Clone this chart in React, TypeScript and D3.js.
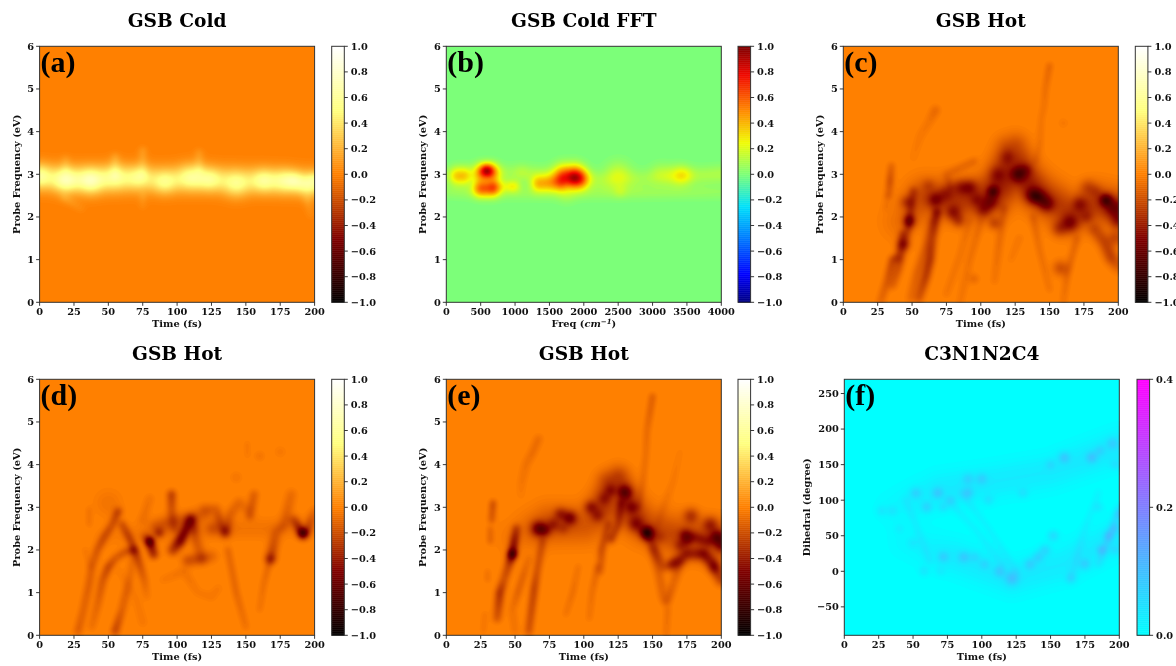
import React, { useMemo } from "react";
import * as d3 from "d3";

type Pt = [number, number, number];
type Ridge = [number, Pt[]];
type Blob = [number, number, number, number];

const ridgesA: Ridge[] = [
  [9.5, [[0,2.92,.32],[40,2.88,.32],[80,2.88,.32],[120,2.88,.32],[160,2.85,.32],[200,2.8,.32]]],
  [3, [[55,3.0,.12],[55,3.4,.12]]],
  [3, [[75,3.0,.1],[75,3.55,.12]]],
  [3, [[116,3.1,.12],[116,3.5,.1]]],
  [3, [[19,3.1,.1],[19,3.35,.08]]],
  [3, [[18,2.45,.1],[30,2.2,.05]]],
  [2.5, [[75,2.5,.08],[75,2.25,.05]]],
  [3, [[195,2.4,.1],[197,2.05,.05]]],
];
const blobsA: Blob[] = [
  [0,2.97,.34,8],[19,2.85,.44,8.5],[37,2.85,.46,9],[55,2.95,.3,9],[72,2.95,.28,8],[91,2.8,.28,8],[110,2.95,.32,9],
  [124,2.88,.28,8],[143,2.75,.3,9],[163,2.85,.32,8],[178,2.85,.3,8],[186,2.85,.26,6],[195,2.72,.3,7],[200,2.9,.2,5],
];

const ridgesB: Ridge[] = [
  [6, [[530,3.04,.5],[650,3.04,.5]]],
  [5.5, [[510,2.67,.58],[660,2.67,.58]]],
  [6, [[170,2.96,.38],[240,2.96,.38]]],
  [4, [[720,2.72,.16],[1000,2.72,.2]]],
  [5.5, [[1350,2.78,.42],[1640,2.78,.4]]],
  [7.5, [[1720,2.98,.52],[1860,2.98,.56]]],
  [6.5, [[1880,2.86,.42],[1940,2.86,.42]]],
  [7, [[3120,3.03,.1],[3350,2.98,.14]]],
  [6, [[100,2.98,.03],[1100,3.03,.1],[2300,2.85,.1],[2900,2.9,.09],[4000,3.0,.12]]],
  [5, [[0,2.6,.06],[400,2.58,.08],[1500,2.55,.06],[2800,2.58,.08],[4000,2.58,.06]]],
];
const blobsB: Blob[] = [
  [590,3.1,.56,4],[3460,2.98,.15,6],[2500,3.0,.16,9],[2530,2.6,.08,4],[960,2.72,.1,3],[1750,2.5,.06,6],[1100,3.05,.05,5],
];

const ridgesC: Ridge[] = [
  [13, [[42,1.9,.08],[60,2.45,.24],[85,2.4,.3],[110,2.5,.32],[125,2.95,.32],[145,2.5,.3],[165,2.1,.28],[185,2.3,.3],[200,2.2,.3]]],
  [2.6, [[27,0,.12],[32,.5,.18],[36,1,.28],[40,1.1,.18],[43,1.6,.24]]],
  [2.8, [[36,.4,.14],[40,.8,.22],[44,1.3,.18],[47,1.7,.24],[51,2.6,.22]]],
  [3, [[55,.1,.2],[60,.6,.32],[63,1,.36],[65,1.5,.26],[68,2.1,.4]]],
  [3, [[49,.1,.1],[54,.7,.15],[60,1.3,.15],[64,1.9,.1]]],
  [2.2, [[33,2.5,.14],[34,2.85,.25],[35,3.2,.14]]],
  [1.8, [[31,2.2,.06],[32,2.5,.06]]],
  [3, [[51,3.4,.03],[56,3.9,.05],[62,4.2,.06],[67,4.5,.12]]],
  [2, [[140,3.3,.07],[143,3.7,.08],[144,4.3,.07],[146,4.6,.08],[147,5,.1],[150,5.55,.14]]],
  [9, [[110,2.9,.14],[120,3.6,.22],[125,3.65,.22],[132,3.2,.16],[140,2.6,.06]]],
  [2.2, [[138,2,.12],[143,1.2,.09],[150,.3,.07]]],
  [2.2, [[160,0,.07],[163,.7,.12],[170,1.5,.12]]],
  [4.5, [[183,1.7,.2],[190,1.4,.25],[195,1.05,.28],[200,.85,.16]]],
  [2.5, [[85,0,.06],[92,1,.08],[100,1.9,.1]]],
  [2.5, [[75,.2,.06],[85,1.1,.07],[92,1.9,.08]]],
  [2.5, [[110,.5,.06],[113,1.3,.1],[117,2.2,.12]]],
  [2.5, [[128,1.5,.06],[122,1,.04]]],
  [2.5, [[78,2.7,.12],[75,3.0,.1],[95,3.3,.12]]],
];
const blobsC: Blob[] = [
  [48,1.9,.4,4],[46,2.35,.22,4],[44,1.35,.28,4],[40,1,.12,3],[67,2.4,.32,5],[62,2.75,.14,4],[75,2.55,.2,5],[80,2.1,.32,5],[84,1.9,.24,4],
  [85,2.7,.24,5],[92,2.7,.3,5],[97,2.4,.18,4],[102,2.15,.28,5],[107,2.35,.3,5],[109,2.6,.48,3.5],[112,3,.18,5],[120,3.4,.2,5],
  [127,3,.4,5],[133,3.1,.18,4],[138,2.5,.4,5],[143,2.45,.28,5],[148,2.3,.34,5],[157,1.72,.24,5],[165,1.85,.36,6],[172,2.3,.24,5],
  [177,2,.18,4],[178,2.7,.18,5],[184,2.6,.12,4],[191,2.4,.55,4],[197,2.2,.32,6],[200,1.9,.28,5],[110,1.85,.24,4],[158,.8,.22,5],[198,1.5,.22,5],[95,.55,.12,3],[160,4.2,.05,3],
];

const ridgesD: Ridge[] = [
  [2.6, [[28,.1,.16],[32,.6,.14],[36,1.2,.16],[38,1.6,.16],[42,2,.2],[47,2.3,.24],[53,2.6,.22],[57,2.9,.3]]],
  [2.6, [[38,.2,.08],[42,.7,.13],[46,1.3,.2],[50,1.6,.28],[55,1.8,.18],[62,1.95,.2],[68,2,.3]]],
  [1.6, [[36,2.6,.08],[36,2.95,.08]]],
  [2, [[33,2,.05],[37,1.6,.05]]],
  [9, [[50,3.1,.06]]],
  [2.6, [[55,.1,.28],[60,.6,.15],[63,1,.15],[66,1.4,.1],[68,1.9,.08]]],
  [2.6, [[60,2.6,.22],[65,2.3,.28],[70,1.95,.32],[76,1.3,.14],[78,.9,.05]]],
  [3, [[77,2.3,.2],[80,2.2,.6],[83,1.9,.4]]],
  [2.8, [[96,3.3,.32],[96,2.9,.2],[98,2.5,.15]]],
  [3.6, [[97,2,.32],[102,2.2,.58],[107,2.5,.5],[110,2.7,.5],[113,2.3,.18],[118,1.8,.14]]],
  [4, [[108,1.75,.22],[118,1.8,.2],[125,1.85,.12]]],
  [5, [[85,2.55,.15],[95,2.65,.18],[110,2.75,.15],[120,2.85,.13]]],
  [3.5, [[120,2.95,.1],[128,2.95,.15],[135,2.4,.3],[138,2.8,.14],[145,3.1,.12],[150,2.95,.08]]],
  [2.2, [[137,2,.13],[143,1,.13],[150,.2,.08]]],
  [2.8, [[153,2.8,.2],[156,3.3,.16]]],
  [3.5, [[168,1.8,.3],[172,2.4,.14],[178,2.6,.15],[183,3.3,.1]]],
  [2, [[160,.6,.07],[163,1.2,.1],[167,1.7,.14]]],
  [3, [[185,2.7,.25],[191,2.4,.5],[195,2.5,.25],[200,2.9,.1]]],
  [1.6, [[151,4.2,.05],[151,4.5,.06]]],
  [3, [[90,1.3,.04],[105,1.5,.07],[115,1,.04],[125,.9,.05],[130,1.1,.04]]],
  [3, [[75,2.7,.08],[80,3.2,.07]]],
  [3, [[58,1.5,.03],[70,.9,.04],[75,.3,.05]]],
  [7, [[45,2.3,.02],[75,2.4,.05],[130,2.5,.06],[170,2.5,.06],[200,2.6,.03]]],
];
const blobsD: Blob[] = [
  [87,2.4,.32,3],[80,2.2,.3,3],[192,2.38,.5,3.5],[126,2.5,.16,4.5],[143,3.7,.06,3.5],[160,4.2,.07,3],[175,4.3,.05,3.5],[135,2.45,.18,3],[168,1.8,.2,3],
];

const ridgesE: Ridge[] = [
  [13, [[50,2.3,.05],[75,2.6,.2],[100,2.6,.18],[125,3.05,.2],[145,2.6,.2],[170,2.3,.24],[200,2.2,.26]]],
  [1.8, [[27,.1,.06],[28,.5,.06]]],
  [2.8, [[37,.4,.2],[39,1,.38],[42,1.3,.22],[45,1.6,.28],[48,1.9,.6],[50,2.3,.42],[51,2.5,.28]]],
  [2, [[34,3.1,.26],[33,2.7,.2]]],
  [1.6, [[32,2.2,.16],[32,2.5,.14]]],
  [1.6, [[30,1.3,.1],[30,1.5,.08]]],
  [2.4, [[50,.1,.07],[48,.6,.08],[52,1,.15],[56,1.4,.15],[60,1.8,.08]]],
  [2.5, [[60,.1,.22],[62,.6,.26],[64,1.1,.3],[66,1.5,.22],[70,2.2,.2]]],
  [2.8, [[54,3.3,.03],[55,3.6,.06],[58,4,.08],[63,4.3,.1],[67,4.6,.1]]],
  [2.4, [[112,1.5,.14],[113,2,.24],[118,2.6,.2]]],
  [2.6, [[120,2.25,.3],[125,2.6,.24],[127,3.1,.26]]],
  [2, [[87,.5,.07],[92,1,.1],[96,1.6,.07]]],
  [2, [[104,.4,.07],[106,1,.1],[110,1.6,.14]]],
  [8, [[112,3.1,.14],[118,3.6,.26],[125,3.7,.28],[132,3.3,.2],[138,2.8,.1]]],
  [2, [[140,3,.1],[143,3.6,.1],[145,4.2,.1],[146,4.8,.12],[148,5.2,.16],[150,5.6,.18]]],
  [3.2, [[146,2.4,.24],[153,1.9,.24],[158,1.6,.2],[165,1.7,.16]]],
  [3, [[150,2,.12],[155,1.4,.14],[158,.9,.14],[160,.8,.2],[165,1.2,.12],[170,1.7,.15]]],
  [2, [[160,.05,.08],[161,.6,.1]]],
  [2.4, [[152,2.4,.04],[158,3,.06],[165,3.6,.05],[170,4.3,.03]]],
  [4, [[165,1.65,.3],[175,1.9,.36],[180,1.9,.3],[187,1.9,.42],[193,1.7,.36],[200,1.3,.28]]],
  [3.5, [[170,2.1,.22],[180,2.3,.24],[190,2.2,.22]]],
];
const blobsE: Blob[] = [
  [48,1.9,.42,3],[67,2.5,.5,5],[72,2.45,.28,4],[78,2.6,.25,4],[83,2.85,.3,4],[90,2.75,.44,4.5],[85,2.5,.16,3.5],[105,3,.32,4],[110,2.8,.24,4],
  [115,3.2,.2,4],[120,3.4,.26,4],[130,3.35,.44,4.5],[135,3,.26,4],[138,2.6,.3,5],[146,2.4,.62,4.5],[155,2.3,.14,4],[174,2.35,.36,4],[178,2.8,.3,5],
  [192,2.6,.32,5],[197,2.3,.48,4.5],[200,2.1,.3,4],[195,1.6,.22,4],
];

const ridgesF: Ridge[] = [
  [13, [[35,90,.015],[70,115,.035],[105,125,.035],[150,140,.035],[200,175,.04]]],
  [13, [[45,40,.015],[80,20,.035],[122,-10,.035],[160,10,.035],[200,50,.035]]],
  [2.4, [[75,100,.025],[95,60,.025],[115,10,.025]]], [2.4, [[85,110,.025],[105,60,.025],[125,0,.025]]], [2.4, [[185,10,.035],[195,60,.05],[200,90,.05]]],
  [2.4, [[165,-10,.025],[175,60,.025],[185,110,.025]]], [2.4, [[45,100,.025],[55,50,.025],[62,15,.025]]],
];
const blobsF: Blob[] = [
  [27,85,.04,3],[35,85,.04,3],[52,110,.065,3.5],[60,90,.065,3.5],[68,110,.075,3.5],[72,90,.05,3],[78,100,.05,3],[90,110,.07,3.5],[90,130,.055,3.5],[100,130,.06,3.5],
  [105,100,.045,3],[130,110,.045,3],[160,160,.08,3.5],[180,160,.08,3.5],[186,170,.05,3],[195,180,.06,3.5],[197,150,.045,3],[150,150,.045,3],[185,90,.045,3],
  [40,60,.025,3],[50,40,.03,3],[58,0,.045,3],[70,0,.03,3],[72,20,.065,3.5],[87,20,.07,3.5],[95,20,.045,3],[102,10,.05,3],[113,0,.07,3.5],[122,-10,.08,4.5],
  [135,10,.065,3.5],[141,20,.065,3.5],[146,30,.065,3.5],[152,50,.07,3.5],[175,10,.065,3.5],[165,-10,.045,3.5],[187,30,.07,3],[192,50,.065,3],[197,60,.05,3],[200,80,.05,3],[197,30,.045,3],
];

const timeTicks = [0, 25, 50, 75, 100, 125, 150, 175, 200];
const freqTicks = [0, 500, 1000, 1500, 2000, 2500, 3000, 3500, 4000];
const probeTicks = [0, 1, 2, 3, 4, 5, 6];
const dihedralTicks = [-50, 0, 50, 100, 150, 200, 250];
const barTicks = [-1, -0.8, -0.6, -0.4, -0.2, 0, 0.2, 0.4, 0.6, 0.8, 1];
const coolTicks = [0, 0.2, 0.4];

const afmhot = (v: number) => {
  const t = (v + 1) / 2;
  const c = (x: number) => Math.round(255 * Math.min(1, Math.max(0, x)));
  return `rgb(${c(2 * t)},${c(2 * t - 0.5)},${c(2 * t - 1)})`;
};
const jetScale = d3.scaleLinear<string>()
  .domain([-1, -0.78, -0.52, -0.25, 0, 0.25, 0.5, 0.78, 1])
  .range(["#00007f", "#0000ff", "#0072ff", "#00e0fb", "#7cff79", "#f1fc06", "#ff8900", "#f10800", "#7f0000"]);
const cool = (v: number) => {
  const t = v / 0.4;
  return `rgb(${Math.round(255 * t)},${Math.round(255 * (1 - t))},255)`;
};

const SERIF = "'DejaVu Serif', serif";
const TICK = 9.8;

type Panel = {
  title: string; tag: string; left: number; top: number; barLeft: number;
  xDomain: [number, number]; yDomain: [number, number]; xTicks: number[]; yTicks: number[];
  yLabel: string; xLabel: string; ridges: Ridge[]; blobs: Blob[]; color: (v: number) => string;
  barDomain: [number, number]; barTicks: number[]; sign: number; maxV: number; labelOff: number;
};

const W = 275, H = 256, BW = 12.6;
const panels: Panel[] = [
  { title: "GSB Cold", tag: "(a)", left: 39.6, top: 46.3, barLeft: 331.7, xDomain: [0, 200], yDomain: [0, 6], xTicks: timeTicks, yTicks: probeTicks, yLabel: "Probe Frequency (eV)", xLabel: "Time (fs)", ridges: ridgesA, blobs: blobsA, color: afmhot, barDomain: [-1, 1], barTicks, sign: 1, maxV: 1, labelOff: 20 },
  { title: "GSB Cold FFT", tag: "(b)", left: 446.3, top: 46.3, barLeft: 738, xDomain: [0, 4000], yDomain: [0, 6], xTicks: freqTicks, yTicks: probeTicks, yLabel: "Probe Frequency (eV)", xLabel: "", ridges: ridgesB, blobs: blobsB, color: (v) => jetScale(v), barDomain: [-1, 1], barTicks, sign: 1, maxV: 1, labelOff: 20 },
  { title: "GSB Hot", tag: "(c)", left: 843.3, top: 46.3, barLeft: 1135.3, xDomain: [0, 200], yDomain: [0, 6], xTicks: timeTicks, yTicks: probeTicks, yLabel: "Probe Frequency (eV)", xLabel: "Time (fs)", ridges: ridgesC, blobs: blobsC, color: afmhot, barDomain: [-1, 1], barTicks, sign: -1, maxV: 1, labelOff: 20 },
  { title: "GSB Hot", tag: "(d)", left: 39.6, top: 379.3, barLeft: 331.7, xDomain: [0, 200], yDomain: [0, 6], xTicks: timeTicks, yTicks: probeTicks, yLabel: "Probe Frequency (eV)", xLabel: "Time (fs)", ridges: ridgesD, blobs: blobsD, color: afmhot, barDomain: [-1, 1], barTicks, sign: -1, maxV: 1, labelOff: 20 },
  { title: "GSB Hot", tag: "(e)", left: 446.3, top: 379.3, barLeft: 738, xDomain: [0, 200], yDomain: [0, 6], xTicks: timeTicks, yTicks: probeTicks, yLabel: "Probe Frequency (eV)", xLabel: "Time (fs)", ridges: ridgesE, blobs: blobsE, color: afmhot, barDomain: [-1, 1], barTicks, sign: -1, maxV: 1, labelOff: 20 },
  { title: "C3N1N2C4", tag: "(f)", left: 844.3, top: 379.3, barLeft: 1137, xDomain: [0, 200], yDomain: [-90, 270], xTicks: timeTicks, yTicks: dihedralTicks, yLabel: "Dihedral (degree)", xLabel: "Time (fs)", ridges: ridgesF, blobs: blobsF, color: cool, barDomain: [0, 0.4], barTicks: coolTicks, sign: 1, maxV: 0.4, labelOff: 34 },
];

const STEP = 1.5;

function buildField(p: Panel, x: d3.ScaleLinear<number, number>, y: d3.ScaleLinear<number, number>) {
  const nx = Math.ceil(W / STEP), ny = Math.ceil(H / STEP);
  const field = new Float64Array(nx * ny);
  const all: Ridge[] = [...p.ridges, ...p.blobs.map(([a, b, v, s]): Ridge => [s, [[a, b, v]]])];
  for (const [s, pts] of all) {
    const P = pts.map(([a, b, v]) => [x(a), y(b), v]);
    const R = 3.6 * s;
    const x0 = Math.max(0, Math.floor((d3.min(P, (q) => q[0])! - R) / STEP));
    const x1 = Math.min(nx - 1, Math.ceil((d3.max(P, (q) => q[0])! + R) / STEP));
    const y0 = Math.max(0, Math.floor((d3.min(P, (q) => q[1])! - R) / STEP));
    const y1 = Math.min(ny - 1, Math.ceil((d3.max(P, (q) => q[1])! + R) / STEP));
    for (let j = y0; j <= y1; j++) for (let i = x0; i <= x1; i++) {
      const cx = (i + 0.5) * STEP, cy = (j + 0.5) * STEP;
      let best = 0;
      for (let k = 0; k < P.length; k++) {
        const A = P[k], B = P[Math.min(k + 1, P.length - 1)];
        const dx = B[0] - A[0], dy = B[1] - A[1], L = dx * dx + dy * dy;
        const u = L ? Math.max(0, Math.min(1, ((cx - A[0]) * dx + (cy - A[1]) * dy) / L)) : 0;
        const ex = A[0] + u * dx - cx, ey = A[1] + u * dy - cy;
        const val = (A[2] + u * (B[2] - A[2])) * Math.exp(-(ex * ex + ey * ey) / (2 * s * s));
        if (val > best) best = val;
      }
      field[j * nx + i] += best;
    }
  }
  const data = Array.from(field);
  d3.blur2({ data, width: nx, height: ny }, 1);
  const levels = d3.range(1, 71).map((k) => (k / 70) * p.maxV);
  return d3.contours().size([nx, ny]).thresholds(levels)(data);
}

function HeatPanel({ p }: { p: Panel }) {
  const x = d3.scaleLinear().domain(p.xDomain).range([0, W]);
  const y = d3.scaleLinear().domain(p.yDomain).range([H, 0]);
  const bar = d3.scaleLinear().domain(p.barDomain).range([H, 0]);
  const contours = useMemo(() => buildField(p, x, y), [p]);
  const path = d3.geoPath(d3.geoTransform({
    point(this: any, a: number, b: number) { this.stream.point(a * STEP, b * STEP); },
  }));
  const base = p.color(0);
  const steps = d3.range(0, 128);
  const cx = p.left + W / 2;
  const tickStyle = { fontFamily: SERIF, fontWeight: 700, fontSize: TICK, fill: "#111" } as const;
  const id = `clip-${p.tag.replace(/\W/g, "")}`;
  return (
    <g>
      <text x={cx} y={p.top - 19.8} textAnchor="middle" style={{ fontFamily: SERIF, fontWeight: 700, fontSize: 18.6, fill: "#000" }}>{p.title}</text>
      <g transform={`translate(${p.left},${p.top})`}>
        <clipPath id={id}><rect width={W} height={H} /></clipPath>
        <rect width={W} height={H} fill={base} />
        <g clipPath={`url(#${id})`}>
          {contours.map((c, i) => (
            c.coordinates.length ? <path key={i} d={path(c as any) || ""} fill={p.color(p.sign * c.value)} /> : null
          ))}
        </g>
        <rect width={W} height={H} fill="none" stroke="#333" strokeWidth={1} />
        <text x={1} y={26} style={{ fontFamily: "'Liberation Serif', serif", fontWeight: 700, fontSize: 30, fill: "#000" }}>{p.tag}</text>
        {p.xTicks.map((t) => (
          <g key={t} transform={`translate(${x(t)},${H})`}>
            <line y2={3.5} stroke="#222" strokeWidth={0.9} />
            <text y={13.2} textAnchor="middle" style={tickStyle}>{t}</text>
          </g>
        ))}
        {p.yTicks.map((t) => (
          <g key={t} transform={`translate(0,${y(t)})`}>
            <line x2={-3.5} stroke="#222" strokeWidth={0.9} />
            <text x={-5.5} y={3.4} textAnchor="end" style={tickStyle}>{t < 0 ? `\u2212${-t}` : t}</text>
          </g>
        ))}
        {p.xLabel ? (
          <text x={W / 2} y={H + 24.5} textAnchor="middle" style={tickStyle}>{p.xLabel}</text>
        ) : (
          <text x={W / 2} y={H + 25} textAnchor="middle" style={tickStyle}>
            Freq (<tspan fontStyle="italic">cm</tspan><tspan dy={-3.5} fontSize={7} fontStyle="italic">{"\u22121"}</tspan><tspan dy={3.5}>)</tspan>
          </text>
        )}
        <text transform={`translate(${-p.labelOff},${H / 2}) rotate(-90)`} textAnchor="middle" style={tickStyle}>{p.yLabel}</text>
      </g>
      <g transform={`translate(${p.barLeft},${p.top})`}>
        {steps.map((k) => {
          const v = p.barDomain[0] + ((k + 0.5) / 128) * (p.barDomain[1] - p.barDomain[0]);
          const top = bar(p.barDomain[0] + ((k + 1) / 128) * (p.barDomain[1] - p.barDomain[0]));
          return <rect key={k} y={top} width={BW} height={H / 128 + 0.5} fill={p.color(v)} />;
        })}
        <rect width={BW} height={H} fill="none" stroke="#333" strokeWidth={1} />
        {p.barTicks.map((t) => (
          <g key={t} transform={`translate(${BW},${bar(t)})`}>
            <line x2={3.5} stroke="#222" strokeWidth={0.9} />
            <text x={6.5} y={3.4} style={tickStyle}>{t < 0 ? `\u2212${(-t).toFixed(1)}` : t.toFixed(1)}</text>
          </g>
        ))}
      </g>
    </g>
  );
}

export default function App() {
  return (
    <svg width={1176} height={666} style={{ position: "absolute", left: 0, top: 0, filter: "blur(0.35px)" }}>
      <rect width={1176} height={666} fill="#fff" />
      {panels.map((p) => <HeatPanel key={p.tag} p={p} />)}
    </svg>
  );
}
